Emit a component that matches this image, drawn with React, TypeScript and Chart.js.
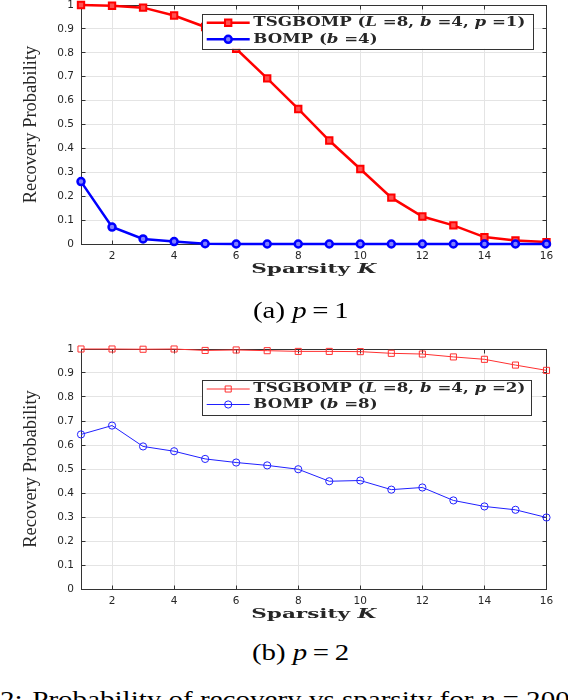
import React, { useEffect, useRef } from "react";
import { Chart, registerables } from "chart.js";

Chart.register(...registerables);

type Seg = [string, boolean];

// ---------- data ----------
const K_VALUES = [1, 2, 3, 4, 5, 6, 7, 8, 9, 10, 11, 12, 13, 14, 15, 16];
const TSGBOMP_P1 = [1.0, 0.997, 0.989, 0.956, 0.908, 0.817, 0.693, 0.565, 0.433, 0.314, 0.194, 0.115, 0.078, 0.029, 0.015, 0.008];
const BOMP_P1 = [0.261, 0.071, 0.021, 0.01, 0.001, 0, 0, 0, 0, 0, 0, 0, 0, 0, 0, 0];
const TSGBOMP_P2 = [1.0, 1.0, 0.999, 1.0, 0.994, 0.996, 0.993, 0.99, 0.99, 0.989, 0.982, 0.979, 0.967, 0.957, 0.933, 0.911];
const BOMP_P2 = [0.644, 0.681, 0.594, 0.574, 0.542, 0.527, 0.515, 0.499, 0.449, 0.452, 0.414, 0.423, 0.369, 0.344, 0.33, 0.298];
const X_TICKS = [2, 4, 6, 8, 10, 12, 14, 16];
const Y_TICKS = [0, 0.1, 0.2, 0.3, 0.4, 0.5, 0.6, 0.7, 0.8, 0.9, 1];

const LEGEND_TSG_P1: Seg[] = [["TSGBOMP (", false], ["L", true], [" =8, ", false], ["b", true], [" =4, ", false], ["p", true], [" =1)", false]];
const LEGEND_BOMP_P1: Seg[] = [["BOMP (", false], ["b", true], [" =4)", false]];
const LEGEND_TSG_P2: Seg[] = [["TSGBOMP (", false], ["L", true], [" =8, ", false], ["b", true], [" =4, ", false], ["p", true], [" =2)", false]];
const LEGEND_BOMP_P2: Seg[] = [["BOMP (", false], ["b", true], [" =8)", false]];
const X_TITLE: Seg[] = [["Sparsity ", false], ["K", true]];
const Y_TITLE = "Recovery Probability";

// ---------- style ----------
const AXIS_COLOR = "#333333";
const GRID_COLOR = "#e4e4e4";
const TEXT_COLOR = "#262626";
const SERIF = '"DejaVu Serif", serif';

function al(p: number) {
  return Math.round(p - 0.5) + 0.5;
}

function measureSegs(ctx: CanvasRenderingContext2D, segs: Seg[], size: number, weight: string) {
  let total = 0;
  const widths = segs.map(([t, it]) => {
    ctx.font = `${it ? "italic " : ""}${weight} ${size}px ${SERIF}`;
    const w = ctx.measureText(t).width;
    total += w;
    return w;
  });
  return { total, widths };
}

function drawSegs(
  ctx: CanvasRenderingContext2D,
  segs: Seg[],
  x: number,
  y: number,
  size: number,
  weight: string,
  sx: number,
  align: "left" | "center"
) {
  const { total, widths } = measureSegs(ctx, segs, size, weight);
  ctx.save();
  ctx.translate(x, y);
  ctx.scale(sx, 1);
  ctx.textAlign = "left";
  ctx.textBaseline = "middle";
  ctx.fillStyle = TEXT_COLOR;
  let cx = align === "center" ? -total / 2 : 0;
  segs.forEach(([t, it], i) => {
    ctx.font = `${it ? "italic " : ""}${weight} ${size}px ${SERIF}`;
    ctx.fillText(t, cx, 0);
    cx += widths[i];
  });
  ctx.restore();
}

const matlabPlugin = {
  id: "matlab",
  beforeDatasetsDraw(chart: any, _args: any, opts: any) {
    const { ctx, chartArea: a } = chart;
    const xs = chart.scales.x;
    const ys = chart.scales.y;
    ctx.save();
    ctx.strokeStyle = AXIS_COLOR;
    ctx.lineWidth = 1;
    ctx.beginPath();
    const top = al(a.top);
    const bottom = al(a.bottom);
    const left = al(a.left);
    const right = al(a.right);
    ctx.moveTo(a.left, top);
    ctx.lineTo(a.right + 0.5, top);
    ctx.moveTo(right, a.top);
    ctx.lineTo(right, a.bottom);
    const tl = opts.tickLen;
    X_TICKS.forEach((v) => {
      const px = al(xs.getPixelForValue(v));
      ctx.moveTo(px, bottom);
      ctx.lineTo(px, bottom - tl);
      ctx.moveTo(px, top);
      ctx.lineTo(px, top + tl);
    });
    Y_TICKS.forEach((v) => {
      const py = al(ys.getPixelForValue(v));
      ctx.moveTo(left, py);
      ctx.lineTo(left + tl, py);
      ctx.moveTo(right, py);
      ctx.lineTo(right - tl, py);
    });
    ctx.stroke();
    ctx.restore();
  },
  afterDraw(chart: any, _args: any, opts: any) {
    const { ctx, chartArea: a } = chart;
    // y title
    ctx.save();
    ctx.translate(a.left - opts.yTitleOffset, (a.top + a.bottom) / 2);
    ctx.rotate(-Math.PI / 2);
    ctx.font = `${opts.yTitleSize}px "Liberation Serif", serif`;
    ctx.fillStyle = TEXT_COLOR;
    ctx.textAlign = "center";
    ctx.textBaseline = "middle";
    ctx.fillText(Y_TITLE, 0, 0);
    ctx.restore();

    // x title
    const xm = measureSegs(ctx, X_TITLE, opts.textSize, opts.textWeight).total;
    drawSegs(ctx, X_TITLE, (a.left + a.right) / 2, a.bottom + opts.xTitleOffset, opts.textSize, opts.textWeight, opts.xTitleWidth / xm, "center");

    // legend
    const lg = opts.legend;
    const bx = a.left + lg.dx;
    const by = a.top + lg.dy;
    ctx.save();
    ctx.fillStyle = "#ffffff";
    ctx.fillRect(bx, by, lg.w, lg.h);
    ctx.strokeStyle = AXIS_COLOR;
    ctx.lineWidth = 1;
    ctx.strokeRect(al(bx), al(by), Math.round(lg.w), Math.round(lg.h));
    ctx.restore();
    const rowW = measureSegs(ctx, lg.rows[0].segs, opts.textSize, opts.textWeight).total;
    const sx = lg.textWidth / rowW;
    lg.rows.forEach((row: any, i: number) => {
      const ds = chart.data.datasets[row.dataset];
      const ry = by + lg.rowY[i];
      ctx.save();
      ctx.strokeStyle = ds.borderColor;
      ctx.lineWidth = ds.borderWidth;
      ctx.beginPath();
      ctx.moveTo(bx + lg.lineX0, ry);
      ctx.lineTo(bx + lg.lineX1, ry);
      ctx.stroke();
      const mx = bx + (lg.lineX0 + lg.lineX1) / 2;
      ctx.lineWidth = ds.pointBorderWidth;
      ctx.strokeStyle = ds.pointBorderColor;
      ctx.fillStyle = ds.pointBackgroundColor;
      ctx.beginPath();
      if (ds.pointStyle === "rect") {
        const s = Math.SQRT1_2 * ds.pointRadius;
        ctx.rect(mx - s, ry - s, 2 * s, 2 * s);
      } else {
        ctx.arc(mx, ry, ds.pointRadius, 0, Math.PI * 2);
      }
      ctx.fill();
      ctx.stroke();
      ctx.restore();
      drawSegs(ctx, row.segs, bx + lg.textX, ry, opts.textSize, opts.textWeight, sx, "left");
    });
  },
};

function makeConfig(datasets: any[], legend: any, padding: any): any {
  return {
    type: "line",
    data: { datasets },
    plugins: [matlabPlugin],
    options: {
      animation: false,
      responsive: false,
      events: [],
      layout: { padding },
      plugins: {
        legend: { display: false },
        tooltip: { enabled: false },
        matlab: {
          tickLen: 4,
          yTitleOffset: 50,
          yTitleSize: 18.5,
          xTitleOffset: 26,
          xTitleWidth: 125,
          textSize: 13,
          textWeight: "bold",
          legend,
        },
      },
      scales: {
        x: {
          type: "linear",
          min: 1,
          max: 16,
          afterFit: (s: any) => {
            s.height = 30;
          },
          afterBuildTicks: (s: any) => {
            s.ticks = X_TICKS.map((v) => ({ value: v }));
          },
          ticks: {
            autoSkip: false,
            maxRotation: 0,
            padding: 6,
            color: TEXT_COLOR,
            font: { family: '"DejaVu Sans", sans-serif', size: 10.5 },
            callback: (v: any) => String(v),
          },
          grid: { color: GRID_COLOR, drawTicks: false, lineWidth: 1 },
          border: { color: AXIS_COLOR, width: 1 },
        },
        y: {
          type: "linear",
          min: 0,
          max: 1,
          afterFit: (s: any) => {
            s.width = 81;
          },
          afterBuildTicks: (s: any) => {
            s.ticks = Y_TICKS.map((v) => ({ value: v }));
          },
          ticks: {
            autoSkip: false,
            padding: 7,
            color: TEXT_COLOR,
            font: { family: '"DejaVu Sans", sans-serif', size: 10.5 },
            callback: (v: any) => String(Math.round(v * 10) / 10),
          },
          grid: { color: GRID_COLOR, drawTicks: false, lineWidth: 1 },
          border: { color: AXIS_COLOR, width: 1 },
        },
      },
    },
  };
}

function toPoints(ys: number[]) {
  return K_VALUES.map((k, i) => ({ x: k, y: ys[i] }));
}

export default function App() {
  const c1 = useRef<HTMLCanvasElement>(null);
  const c2 = useRef<HTMLCanvasElement>(null);

  useEffect(() => {
    const ds1 = [
      {
        label: "TSGBOMP (L=8, b=4, p=1)",
        data: toPoints(TSGBOMP_P1),
        borderColor: "#ff0000",
        borderWidth: 2.5,
        pointStyle: "rect",
        pointRadius: 4.5,
        pointBorderWidth: 2,
        pointBorderColor: "#ff0000",
        pointBackgroundColor: "#ff5050",
        tension: 0,
        clip: false,
        order: 1,
      },
      {
        label: "BOMP (b=4)",
        data: toPoints(BOMP_P1),
        borderColor: "#0000ff",
        borderWidth: 2.5,
        pointStyle: "circle",
        pointRadius: 3.5,
        pointBorderWidth: 2.5,
        pointBorderColor: "#0000ff",
        pointBackgroundColor: "#8080ff",
        tension: 0,
        clip: false,
        order: 0,
      },
    ];
    const ds2 = [
      {
        label: "TSGBOMP (L=8, b=4, p=2)",
        data: toPoints(TSGBOMP_P2),
        borderColor: "#ff3030",
        borderWidth: 1,
        pointStyle: "rect",
        pointRadius: 4.3,
        pointBorderWidth: 1,
        pointBorderColor: "#ff3030",
        pointBackgroundColor: "rgba(255,255,255,0)",
        tension: 0,
        clip: false,
        order: 1,
      },
      {
        label: "BOMP (b=8)",
        data: toPoints(BOMP_P2),
        borderColor: "#2020ff",
        borderWidth: 1,
        pointStyle: "circle",
        pointRadius: 3.6,
        pointBorderWidth: 1,
        pointBorderColor: "#2020ff",
        pointBackgroundColor: "rgba(255,255,255,0)",
        tension: 0,
        clip: false,
        order: 0,
      },
    ];
    const legendCommon = { lineX0: 4, lineX1: 47, textX: 50.6, textWidth: 272 };
    const ch1 = new Chart(
      c1.current!,
      makeConfig(
        ds1,
        {
          ...legendCommon,
          dx: 121.7,
          dy: 9.3,
          w: 331,
          h: 34.5,
          rowY: [8.5, 25],
          rows: [
            { dataset: 0, segs: LEGEND_TSG_P1 },
            { dataset: 1, segs: LEGEND_BOMP_P1 },
          ],
        },
        { top: 20, right: 21.5, bottom: 11, left: 0 }
      )
    );
    const ch2 = new Chart(
      c2.current!,
      makeConfig(
        ds2,
        {
          ...legendCommon,
          dx: 121.7,
          dy: 31,
          w: 329,
          h: 34.5,
          rowY: [9, 24.5],
          rows: [
            { dataset: 0, segs: LEGEND_TSG_P2 },
            { dataset: 1, segs: LEGEND_BOMP_P2 },
          ],
        },
        { top: 29, right: 21.5, bottom: 11, left: 0 }
      )
    );
    return () => {
      ch1.destroy();
      ch2.destroy();
    };
  }, []);

  const capStyle: React.CSSProperties = {
    position: "absolute",
    left: 201,
    width: 200,
    textAlign: "center",
    fontFamily: '"Liberation Serif", serif',
    fontSize: 24,
    lineHeight: "24px",
    color: "#000",
    whiteSpace: "nowrap",
  };
  const inner: React.CSSProperties = { display: "inline-block", transform: "scaleX(1.2)" };

  return (
    <div
      style={{
        position: "absolute",
        left: 0,
        top: 0,
        width: 568,
        height: 700,
        overflow: "hidden",
        background: "#fff",
      }}
    >
      <canvas ref={c1} width={568} height={300} style={{ position: "absolute", left: 0, top: -15, width: 568, height: 300 }} />
      <canvas ref={c2} width={568} height={310} style={{ position: "absolute", left: 0, top: 320, width: 568, height: 310 }} />
      <div style={{ ...capStyle, top: 298 }}>
        <span style={inner}>
          (a) <i>p</i>&#8201;=&#8201;1
        </span>
      </div>
      <div style={{ ...capStyle, top: 640 }}>
        <span style={inner}>
          (b) <i>p</i>&#8201;=&#8201;2
        </span>
      </div>
      <div
        style={{
          position: "absolute",
          left: 0,
          top: 687,
          fontFamily: '"Liberation Serif", serif',
          fontSize: 24,
          lineHeight: "24px",
          color: "#000",
          whiteSpace: "nowrap",
          transformOrigin: "0 0",
          transform: "scaleX(1.21)",
        }}
      >
        <span style={{ marginRight: 8 }}>2:</span>Probability of recovery vs sparsity for <i>n</i> = 200
      </div>
    </div>
  );
}
